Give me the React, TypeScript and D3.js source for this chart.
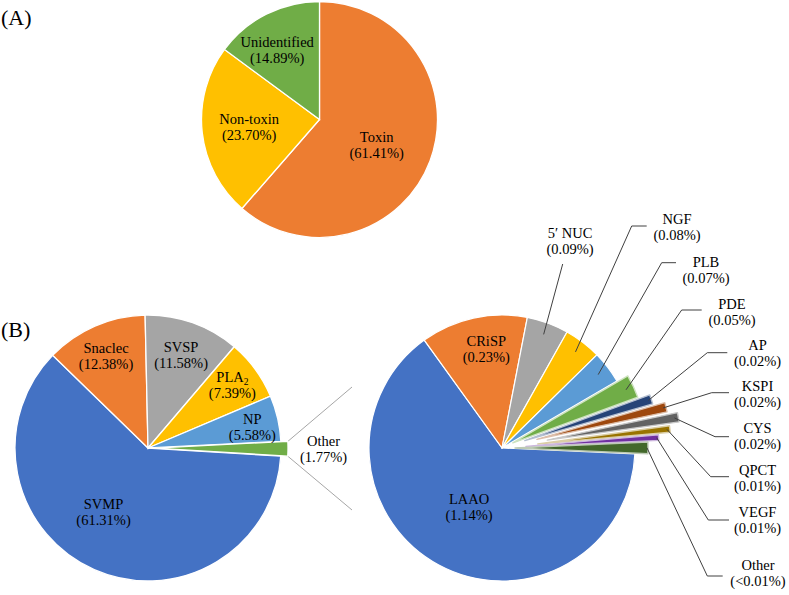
import React from 'react';
import * as d3 from 'd3';

// ---------- DATA ----------
const pieALabels = ['Toxin', 'Non-toxin', 'Unidentified'];
const pieAValues = [61.41, 23.7, 14.89];
const pieAColors = ['#ED7D31', '#FFC000', '#70AD47'];

const pieBLabels = ['SVMP', 'Snaclec', 'SVSP', 'PLA2', 'NP', 'Other'];
const pieBValues = [61.31, 12.38, 11.58, 7.39, 5.58, 1.77];
const pieBColors = ['#4472C4', '#ED7D31', '#A5A5A5', '#FFC000', '#5B9BD5', '#70AD47'];

const pieCLabels = ['LAAO', 'CRiSP', '5\u2032 NUC', 'NGF', 'PLB', 'PDE', 'AP', 'KSPI', 'CYS', 'QPCT', 'VEGF', 'Other'];
const pieCValues = [1.14, 0.23, 0.09, 0.08, 0.07, 0.05, 0.02, 0.02, 0.02, 0.014, 0.012, 0.025];
const pieCDisplay = ['1.14%', '0.23%', '0.09%', '0.08%', '0.07%', '0.05%', '0.02%', '0.02%', '0.02%', '0.01%', '0.01%', '<0.01%'];
const pieCColors = ['#4472C4', '#ED7D31', '#A5A5A5', '#FFC000', '#5B9BD5', '#70AD47', '#264478', '#9E480E', '#636363', '#997300', '#7030A0', '#43682B'];

// ---------- LAYOUT ----------
const W = 789, H = 595;
const FONT = "'Liberation Serif', 'Times New Roman', serif";
const FS = 14.5;
const deg = Math.PI / 180;

const A = { cx: 319.5, cy: 119.5, r: 118, start: 0 };
const B = { cx: 148, cy: 448, r: 133, start: 93.5, explode: [0, 0, 0, 0, 0, 7] };
const C = { cx: 502, cy: 448, r: 133, start: 92.5, explode: [0, 0, 0, 0, 0, 12, 24, 36, 46, 36, 24, 13] };

// internal label placement: [radius fraction, angle offset in degrees from bisector]
const labelPosA = [[0.53, 3.5], [0.6, 0], [0.69, -4.5]];
const labelPosB = [[0.585, 11], [0.76, -1], [0.742, 0], [0.79, -0.3], [0.8, 1.7], [1.32, 0]];
const labelPosC: Record<number, number[]> = { 0: [0.51, 0.7], 1: [0.756, 3.4] };

// external labels of the second pie, offsets relative to its centre
const extC: Record<number, { label: number[]; elbow?: number[]; end: number[]; inset: number }> = {
  2: { label: [68, -207], end: [60.7, -184], inset: 12 },
  3: { label: [175, -220.8], elbow: [129.7, -222], end: [144.7, -222], inset: 12 },
  4: { label: [204, -178.5], elbow: [159.7, -185.3], end: [174, -185.3], inset: 12 },
  5: { label: [230, -135.8], elbow: [179.7, -138], end: [199.7, -138], inset: 8 },
  6: { label: [255.5, -94.7], elbow: [205.3, -95.3], end: [225.3, -95.3], inset: 3 },
  7: { label: [255.5, -53.8], elbow: [209.7, -55.3], end: [227, -55.3], inset: 3 },
  8: { label: [255.5, -11.7], elbow: [213, -11.3], end: [227, -11.3], inset: 4 },
  9: { label: [255.5, 30], elbow: [208.7, 28.7], end: [227, 28.7], inset: 3 },
  10: { label: [255.5, 71.7], elbow: [206.3, 72], end: [227, 72], inset: 2 },
  11: { label: [256, 125.2], elbow: [205.3, 128], end: [220.7, 128], inset: 1 },
};

const connectorEnds = [[-150, -61], [-150, 62]];

function polar(cx: number, cy: number, r: number, aDeg: number) {
  return [cx + r * Math.sin(aDeg * deg), cy - r * Math.cos(aDeg * deg)];
}

function makePie(values: number[], startDeg: number) {
  return d3
    .pie<number>()
    .sort(null)
    .value((d) => d)
    .startAngle(startDeg * deg)
    .endAngle(startDeg * deg + 2 * Math.PI)(values);
}

function TwoLine({ x, y, l1, l2 }: { x: number; y: number; l1: React.ReactNode; l2: string }) {
  return (
    <g fontFamily={FONT} fontSize={FS} fill="#000" textAnchor="middle">
      <text x={x} y={y - 3}>{l1}</text>
      <text x={x} y={y + 13}>{l2}</text>
    </g>
  );
}

function labelNode(name: string) {
  if (name === 'PLA2') {
    return (
      <>
        <tspan>PLA</tspan>
        <tspan fontSize={9.5} dy={2.5}>2</tspan>
      </>
    );
  }
  return name;
}

export default function App() {
  const arcA = d3.arc<d3.PieArcDatum<number>>().innerRadius(0).outerRadius(A.r);
  const arcB = d3.arc<d3.PieArcDatum<number>>().innerRadius(0).outerRadius(B.r);
  const arcC = d3.arc<d3.PieArcDatum<number>>().innerRadius(0).outerRadius(C.r);

  const pA = makePie(pieAValues, A.start);
  const pB = makePie(pieBValues, B.start);
  const pC = makePie(pieCValues, C.start);

  const mid = (d: d3.PieArcDatum<number>) => ((d.startAngle + d.endAngle) / 2) / deg;

  const other = pB[pB.length - 1];
  const oMid = mid(other);
  const oEx = B.explode[B.explode.length - 1];
  const [ox, oy] = polar(0, 0, oEx, oMid);
  const c1 = polar(B.cx + ox, B.cy + oy, B.r, other.startAngle / deg);
  const c2 = polar(B.cx + ox, B.cy + oy, B.r, other.endAngle / deg);

  return (
    <svg width={W} height={H} style={{ position: 'absolute', left: 0, top: 0, background: '#fff' }}>
      <rect width={W} height={H} fill="#fff" />
      <text x={1} y={25} fontFamily={FONT} fontSize={22} fill="#000">(A)</text>
      <text x={1} y={337} fontFamily={FONT} fontSize={22} fill="#000">(B)</text>

      {/* Pie A */}
      <g transform={`translate(${A.cx},${A.cy})`}>
        {pA.map((d, i) => (
          <path key={i} d={arcA(d) || ''} fill={pieAColors[i]} stroke="#fff" strokeWidth={1.3} />
        ))}
      </g>
      {pA.map((d, i) => {
        const [f, off] = labelPosA[i];
        const [x, y] = polar(A.cx, A.cy, A.r * f, mid(d) + off);
        return <TwoLine key={i} x={x} y={y} l1={pieALabels[i]} l2={`(${pieAValues[i].toFixed(2)}%)`} />;
      })}

      {/* Connector lines */}
      <line x1={c1[0]} y1={c1[1]} x2={C.cx + connectorEnds[0][0]} y2={C.cy + connectorEnds[0][1]} stroke="#A6A6A6" strokeWidth={1} />
      <line x1={c2[0]} y1={c2[1]} x2={C.cx + connectorEnds[1][0]} y2={C.cy + connectorEnds[1][1]} stroke="#A6A6A6" strokeWidth={1} />

      {/* Pie B */}
      {pB.map((d, i) => {
        const [tx, ty] = polar(0, 0, B.explode[i], mid(d));
        return (
          <path key={i} transform={`translate(${B.cx + tx},${B.cy + ty})`} d={arcB(d) || ''} fill={pieBColors[i]} stroke="#fff" strokeWidth={1.3} />
        );
      })}
      {pB.map((d, i) => {
        const [f, off] = labelPosB[i];
        const [x, y] = polar(B.cx, B.cy, B.r * f, mid(d) + off);
        return <TwoLine key={i} x={x} y={y} l1={labelNode(pieBLabels[i])} l2={`(${pieBValues[i].toFixed(2)}%)`} />;
      })}

      {/* Pie C */}
      {pC.map((d, i) => {
        const ex = C.explode[i];
        const [tx, ty] = polar(0, 0, ex, mid(d));
        const stroke = ex > 0 ? d3.interpolateRgb(pieCColors[i], '#ffffff')(0.65) : '#fff';
        return (
          <path key={i} transform={`translate(${C.cx + tx},${C.cy + ty})`} d={arcC(d) || ''} fill={pieCColors[i]} stroke={stroke} strokeWidth={ex > 0 ? 1.4 : 1.2} strokeLinejoin="round" />
        );
      })}
      {pC.map((d, i) => {
        if (labelPosC[i]) {
          const [f, off] = labelPosC[i];
          const [x, y] = polar(C.cx, C.cy, C.r * f, mid(d) + off);
          return <TwoLine key={i} x={x} y={y} l1={pieCLabels[i]} l2={`(${pieCDisplay[i]})`} />;
        }
        const e = extC[i];
        if (!e) return null;
        const [sx, sy] = polar(C.cx, C.cy, C.r + C.explode[i] - e.inset, mid(d));
        const pts: number[][] = [[sx, sy]];
        if (e.elbow) pts.push([C.cx + e.elbow[0], C.cy + e.elbow[1]]);
        pts.push([C.cx + e.end[0], C.cy + e.end[1]]);
        const line = d3.line()(pts as [number, number][]) || '';
        return (
          <g key={i}>
            <path d={line} fill="none" stroke="#404040" strokeWidth={1} />
            <TwoLine x={C.cx + e.label[0]} y={C.cy + e.label[1]} l1={pieCLabels[i]} l2={`(${pieCDisplay[i]})`} />
          </g>
        );
      })}
    </svg>
  );
}
